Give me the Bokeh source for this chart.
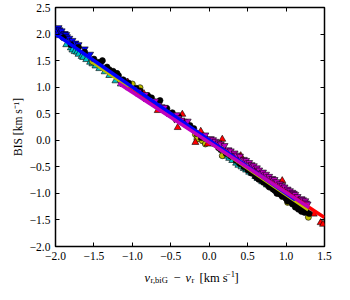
from bokeh.plotting import figure
from bokeh.layouts import column
from bokeh.models import (FixedTicker, CustomJSTickFormatter, LinearAxis, Label,
                          ColumnDataSource, Range1d)
from bokeh.embed import file_html
from bokeh.resources import INLINE

# ---- data ----
blue_x = [-1.99, -1.98, -1.97, -1.96, -1.95, -1.93, -1.92, -1.91, -1.88, -1.86, -1.85,
          -1.82, -1.78, -1.74, -1.70, -1.62, -1.55, -1.40, -1.28, -1.10, 0.02, 0.08,
          0.95, 1.05, 1.12]
blue_y = [2.10, 2.00, 2.05, 2.12, 2.08, 2.02, 2.06, 1.98, 2.01, 1.99, 1.95,
          1.92, 1.88, 1.83, 1.80, 1.72, 1.62, 1.45, 1.30, 1.12, -0.01, -0.07,
          -1.00, -1.10, -1.15]

cyan_x = [-1.86, -1.80, -1.78, -1.75, -1.72, -1.70, -1.66, -1.64, -1.60, -1.55, -1.52,
          -1.48, -1.43, -1.36, -1.30, -1.22, -1.15,
          0.18, 0.22, 0.26, 0.30, 0.35, 0.38, 0.42, 0.45, 0.48, 0.52, 0.55, 0.60, 0.63,
          0.66, 0.69, 0.72, 0.75, 0.78, 0.82, 0.85, 0.88, 0.90, 0.95, 0.98, 1.05, 1.10,
          1.15, 1.22]
cyan_y = [1.80, 1.74, 1.70, 1.67, 1.66, 1.62, 1.58, 1.56, 1.52, 1.47, 1.44,
          1.40, 1.35, 1.29, 1.22, 1.12, 1.06,
          -0.28, -0.30, -0.34, -0.38, -0.43, -0.47, -0.50, -0.53, -0.56, -0.60, -0.62, -0.68, -0.72,
          -0.74, -0.78, -0.80, -0.84, -0.86, -0.90, -0.92, -0.96, -0.98, -1.03, -1.06, -1.12, -1.17,
          -1.22, -1.28]

yellow_x = [-1.52, -1.00, -0.90, -0.18, -0.16, -0.09, -0.05, 0.17, 0.20, 1.02, 1.29]
yellow_y = [1.48, 1.06, 0.99, 0.11, 0.02, -0.01, -0.07, -0.29, -0.20, -1.17, -1.45]

red_x = [-1.06, -0.85, -0.78, -0.67, -0.41, -0.35, -0.18, -0.15, -0.11, -0.10, -0.05,
         -0.02, 0.05, 0.10, 0.17, 0.25, 0.41, 0.60, 0.78, 0.95, 1.00, 1.12, 1.25, 1.36,
         1.45, 1.48]
red_y = [1.09, 0.88, 0.82, 0.56, 0.24, 0.49, -0.04, 0.12, 0.17, 0.05, 0.06,
         -0.07, -0.02, -0.08, 0.02, -0.22, -0.29, -0.55, -0.75, -0.76, -1.02, -1.08, -1.22, -1.39,
         -1.55, -1.58]

black_x = [-1.90, -1.80, -1.70, -1.62, -1.50, -1.45, -1.42, -1.39, -1.33, -1.30, -1.25,
           -1.20, -1.18, -1.12, -1.05, -0.95, -0.90, -0.80, -0.75, -0.70, -0.64, -0.55,
           -0.48, -0.40, -0.30, -0.25, -0.20, -0.10, 0.00, 0.05, 0.12, 0.15, 0.22, 0.28,
           0.35, 0.40, 0.45, 0.50, 0.55, 0.60, 0.62, 0.65, 0.68, 0.70, 0.72, 0.75, 0.78,
           0.80, 0.83, 0.85, 0.87, 0.88, 0.90, 0.93, 0.95, 0.97, 1.00, 1.02, 1.03, 1.07,
           1.08, 1.10, 1.12, 1.14, 1.16, 1.18, 1.20, 1.22, 1.24, 1.26, 1.30]
black_y = [1.93, 1.80, 1.75, 1.66, 1.53, 1.47, 1.46, 1.50, 1.38, 1.33, 1.30,
           1.26, 1.22, 1.14, 1.08, 0.98, 0.93, 0.84, 0.80, 0.72, 0.75, 0.60,
           0.52, 0.45, 0.34, 0.28, 0.22, 0.05, 0.00, -0.06, -0.14, -0.18, -0.25, -0.30,
           -0.38, -0.44, -0.50, -0.56, -0.62, -0.68, -0.70, -0.74, -0.72, -0.78, -0.80, -0.83, -0.88,
           -0.86, -0.92, -0.94, -0.95, -1.00, -1.00, -1.02, -1.06, -1.05, -1.10, -1.15, -1.12, -1.16,
           -1.20, -1.20, -1.26, -1.22, -1.30, -1.26, -1.34, -1.30, -1.36, -1.33, -1.38]

magenta_x = [-1.15, -1.08, -1.02, -0.98, -0.95, -0.92, -0.88, -0.85, -0.83, -0.78, -0.72,
             -0.70, -0.66, -0.62, -0.60, -0.58, -0.55, -0.50, -0.45, -0.42, -0.40, -0.36,
             -0.32, -0.28, -0.05, 0.00, 0.02, 0.05, 0.08, 0.12, 0.15, 0.20, 0.25, 0.28,
             0.33, 0.36, 0.40, 0.45, 0.48, 0.52, 0.55, 0.58, 0.62, 0.65, 0.68, 0.70, 0.74,
             0.78, 0.82, 0.85, 0.88, 0.92, 0.95, 0.98, 1.02, 1.05, 1.08, 1.10, 1.12, 1.15,
             1.18, 1.20, 1.22, 1.25, 1.26, 1.28]
magenta_y = [1.08, 1.02, 0.98, 0.96, 0.90, 0.92, 0.84, 0.80, 0.86, 0.76, 0.70,
             0.74, 0.66, 0.63, 0.58, 0.62, 0.52, 0.48, 0.40, 0.48, 0.42, 0.38,
             0.33, 0.36, 0.10, 0.02, 0.03, 0.01, -0.02, -0.05, -0.07, -0.10, -0.18, -0.20,
             -0.24, -0.28, -0.30, -0.36, -0.38, -0.42, -0.46, -0.48, -0.52, -0.56, -0.62, -0.60, -0.64,
             -0.68, -0.72, -0.74, -0.78, -0.82, -0.85, -0.88, -0.92, -0.95, -0.98, -1.00, -1.02, -1.06,
             -1.12, -1.10, -1.12, -1.14, -1.18, -1.20]

# linear fits (colour, x-range, slope, intercept)
fit_color = ["#bfbf00", "#ff0000", "#0000ff", "#bf00bf"]
fit_x_start = [-1.52, -1.06, -2.00, -1.18]
fit_x_end = [1.29, 1.50, 1.12, 1.30]
fit_slope = [-0.99, -0.95, -1.00, -0.945]
fit_intercept = [-0.03, -0.03, 0.00, -0.04]

x_ticks = [-2.0, -1.5, -1.0, -0.5, 0.0, 0.5, 1.0, 1.5]
y_ticks = [-2.0, -1.5, -1.0, -0.5, 0.0, 0.5, 1.0, 1.5, 2.0, 2.5]

FONT = "Liberation Serif"
X0, X1 = -2.0, 1.5
FW, FH = 269, 239
BL, BR = 55, 10

p = figure(output_backend="svg", toolbar_location=None,
           frame_width=FW, frame_height=FH,
           min_border_left=BL, min_border_right=BR, min_border_top=7, min_border_bottom=20,
           x_range=Range1d(X0, X1), y_range=Range1d(-2.0, 2.5),
           x_axis_location=None, y_axis_location=None)
p.grid.visible = False
p.outline_line_color = "black"
p.outline_line_width = 1.5
p.background_fill_color = "white"
p.border_fill_color = "white"

fmt = CustomJSTickFormatter(code='return (tick < 0 ? "\\u2212" : "") + Math.abs(tick).toFixed(1);')
empty_fmt = CustomJSTickFormatter(code='return "";')

def make_axis(ticks, show_labels):
    ax = LinearAxis(ticker=FixedTicker(ticks=ticks, minor_ticks=[]),
                    formatter=fmt if show_labels else empty_fmt)
    ax.axis_line_color = None
    ax.major_tick_in = 4
    ax.major_tick_out = 0
    ax.major_tick_line_color = "black"
    ax.major_tick_line_width = 1
    ax.minor_tick_line_color = None
    ax.major_label_text_font = FONT
    ax.major_label_text_font_size = "11.5px" if show_labels else "0px"
    ax.major_label_text_color = "black"
    ax.major_label_standoff = 5 if show_labels else 0
    return ax

xb = make_axis(x_ticks, True)
yl = make_axis(y_ticks, True)
yl.axis_label = "BIS [km s\u207b\u00b9]"
yl.axis_label_text_font = FONT
yl.axis_label_text_font_size = "11.5px"
yl.axis_label_text_font_style = "normal"
yl.axis_label_text_color = "black"
yl.axis_label_standoff = 3
xt = make_axis(x_ticks, False)
yr = make_axis(y_ticks, False)
p.add_layout(xb, "below")
p.add_layout(yl, "left")
p.add_layout(xt, "above")
p.add_layout(yr, "right")

# scatter groups
def pts(xs, ys, marker, color, size):
    src = ColumnDataSource(dict(x=xs, y=ys))
    p.scatter("x", "y", source=src, marker=marker, size=size, fill_color=color,
              line_color="black", line_width=0.6)

pts(blue_x, blue_y, "inverted_triangle", "#0000ff", 7)
pts(cyan_x, cyan_y, "triangle", "#00bfbf", 7)
pts(yellow_x, yellow_y, "circle", "#bfbf00", 6)
pts(red_x, red_y, "triangle", "#ff0000", 7)
pts(black_x, black_y, "circle", "#000000", 6)
pts(magenta_x, magenta_y, "inverted_triangle", "#bf00bf", 7)

# fit lines
for c, x0, x1, m, b in zip(fit_color, fit_x_start, fit_x_end, fit_slope, fit_intercept):
    p.line([x0, x1], [b + m * x0, b + m * x1], line_color=c, line_width=3.5)

# x-axis label strip: same horizontal frame as the plot, pixel units vertically
LH = 18
q = figure(output_backend="svg", toolbar_location=None,
           frame_width=FW, frame_height=LH,
           min_border_left=BL, min_border_right=BR, min_border_top=0, min_border_bottom=0,
           x_range=Range1d(X0, X1), y_range=Range1d(0, LH),
           x_axis_location=None, y_axis_location=None)
q.grid.visible = False
q.outline_line_color = None
q.background_fill_color = "white"
q.border_fill_color = "white"

PX_PER_UNIT = FW / (X1 - X0)

def lab(text, page_x, y, size, style="normal"):
    q.add_layout(Label(x=X0 + (page_x - 8 - BL) / PX_PER_UNIT, y=y, text=text,
                       text_font=FONT, text_font_size=size, text_font_style=style,
                       text_color="black", text_align="left",
                       text_baseline="alphabetic"))

BASE = 7
lab("v", 152, BASE, "12.5px", "italic")
lab("r,biG", 158, BASE - 2.5, "8.5px")
lab("\u2212", 181, BASE, "12.5px")
lab("v", 193, BASE, "12.5px", "italic")
lab("r", 199, BASE - 2.5, "8.5px")
lab("[km s", 207, BASE, "12.5px")
lab("\u22121", 233.5, BASE + 4, "8.5px")
lab("]", 242, BASE, "12.5px")

layout = column(p, q, spacing=0)
open("out.html", "w").write(file_html(layout, INLINE))
